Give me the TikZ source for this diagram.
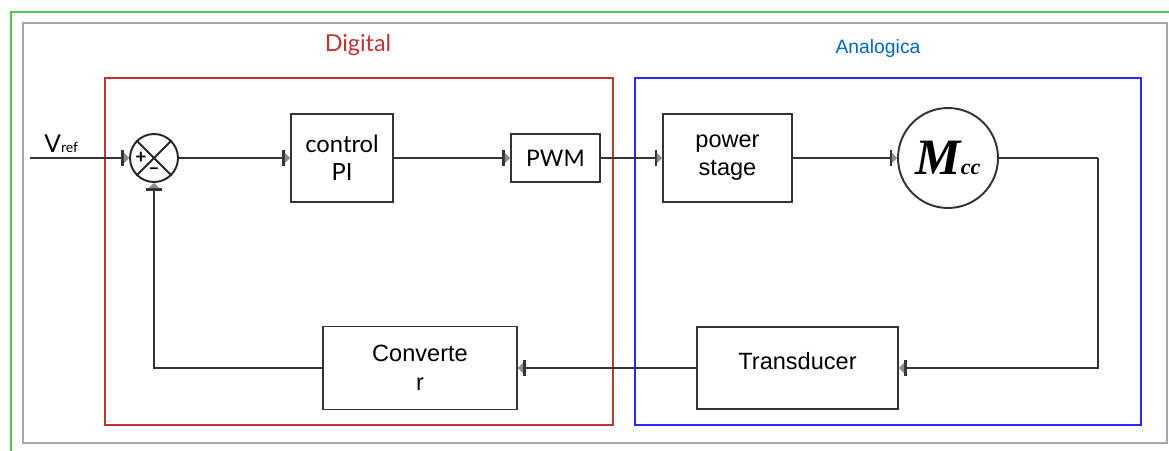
\documentclass[tikz,border=0pt]{standalone}
\usepackage{fontspec}
\usetikzlibrary{arrows.meta}
\newfontfamily\arialfont{Liberation Sans}
\newfontfamily\gillfont{Lato}
\newfontfamily\timesfont{Liberation Serif}
\definecolor{digitalred}{RGB}{192,52,52}
\definecolor{analogblue}{RGB}{40,40,255}
\definecolor{labelblue}{RGB}{0,102,204}
\definecolor{framegray}{RGB}{168,168,168}
\definecolor{framegreen}{RGB}{80,200,80}

\tikzstyle{block}=[draw=black!80,line width=1.1pt,fill=white,inner sep=0pt,align=center]
\tikzstyle{sumpoint}=[draw=black!85,line width=1.1pt,circle,minimum size=0.96cm,inner sep=0pt]
\tikzstyle{signal}=[draw,line width=1.1pt,black!80,-{Bar[width=9.5pt,line width=1.3pt]Triangle[length=3pt,width=6pt,color=black!45,fill=black!45]}]
\tikzstyle{wire}=[draw,line width=1.1pt,black!80,-]

\begin{document}
\begin{tikzpicture}[x=0.02cm,y=-0.02cm]
  \useasboundingbox (0,0) rectangle (1169,450);
  % outer frames
  \draw[framegreen,line width=1.2pt] (11,460) -- (11,12) -- (1180,12);
  \draw[framegray,line width=1.2pt] (23,23) rectangle (1167,443);
  % digital and analog regions
  \draw[digitalred,line width=1.2pt] (105,78) rectangle (613,425);
  \draw[analogblue,line width=1.4pt] (635,78) rectangle (1141,425);
  \node[digitalred,font=\gillfont\fontsize{13.3}{16}\selectfont] (digital) at (358,45) {Digital};
  \node[labelblue,font=\arialfont\fontsize{11}{13}\selectfont] (analog) at (878,49) {Analogica};

  % blocks
  \node[sumpoint] (sum) at (154,158) {};
  \node[block,minimum width=2.04cm,minimum height=1.76cm,font=\gillfont\fontsize{13.5}{16}\selectfont] (pi) at (342,158) {control\\PI};
  \node[block,minimum width=1.78cm,minimum height=0.96cm,font=\gillfont\fontsize{13}{16}\selectfont] (pwm) at (555.5,158) {PWM};
  \node[block,minimum width=2.58cm,minimum height=1.76cm,font=\arialfont\fontsize{13.4}{16}\selectfont] (power) at (727.5,158) {power\\stage};
  \node[block,circle,minimum size=2cm] (motor) at (948,158)
    {\timesfont\bfseries\itshape\fontsize{29}{30}\selectfont M\fontsize{12.5}{13}\selectfont cc};
  \node[block,minimum width=4.02cm,minimum height=1.64cm] (trans) at (797.5,368) {};
  \node[font=\arialfont\fontsize{13.4}{16}\selectfont] (translabel) at (797.5,361) {Transducer};
  \node[block,minimum width=3.88cm,minimum height=1.66cm,font=\arialfont\fontsize{13.4}{16.4}\selectfont] (conv) at (420,368) {Converte\\r};

  % summing junction marks
  \draw[black!85,line width=1.1pt] (sum.north west) -- (sum.south east)
    (sum.north east) -- (sum.south west);
  \node[font=\gillfont\bfseries\fontsize{11}{12}\selectfont] (plus) at (141,158) {+};
  \node[font=\gillfont\bfseries\fontsize{11}{12}\selectfont] (minus) at (154,171) {\textendash};

  % input
  \coordinate (vin) at (30,158);
  \node[anchor=base west,inner sep=0pt,font=\gillfont\fontsize{14}{16}\selectfont] (vref) at (44,152)
    {V\fontsize{8}{9}\selectfont ref};
  \coordinate (tap) at (1098,158);

  % forward path
  \foreach \source/\dest in {vin/sum, sum/pi, pi/pwm, pwm/power, power/motor}
    \path[signal] (\source) -- (\dest);
  % feedback path
  \path[wire] (motor) -- (tap);
  \path[signal] (tap) |- (trans);
  \path[signal] (trans) -- (conv);
  \path[signal] (conv) -| (sum);
\end{tikzpicture}
\end{document}
